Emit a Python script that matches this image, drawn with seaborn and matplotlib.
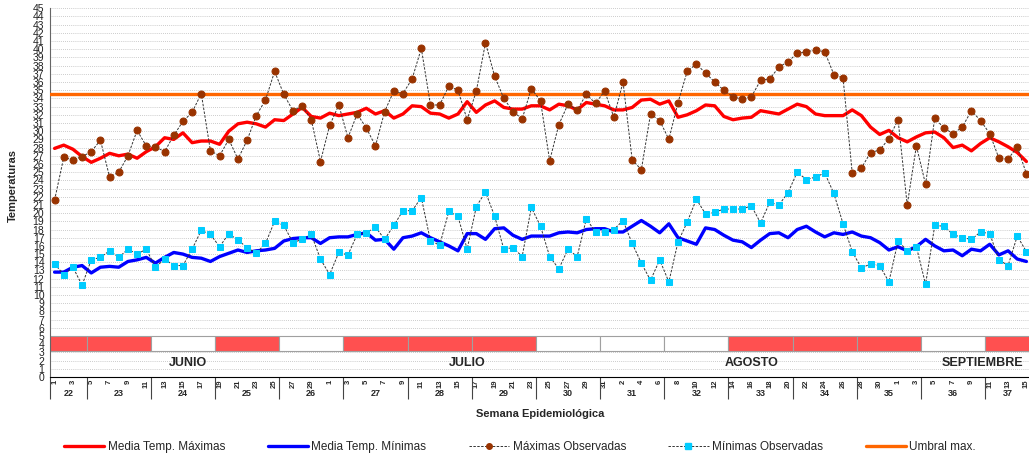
import numpy as np
import pandas as pd
import matplotlib as mpl
import matplotlib.pyplot as plt
from matplotlib.lines import Line2D
from matplotlib.patches import Rectangle
import seaborn as sns

sns.set_style('white')
plt.rcParams['font.family'] = ['Liberation Sans', 'DejaVu Sans']

# datos diarios 1 jun - 15 sep
fechas = pd.date_range('2022-06-01', periods=107)
semanas = list(range(22, 38))
dias_semana = [4] + [7] * 14 + [5]
banda_roja = [1, 1, 0, 1, 0, 1, 1, 1, 0, 0, 0, 1, 1, 1, 0, 1]
meses = ['JUNIO', 'JULIO', 'AGOSTO', 'SEPTIEMBRE']
umbral = 34.5

max_obs = [21.6, 26.8, 26.5, 26.9, 27.5, 28.9, 24.4, 25.0, 27.0, 30.1,
           28.2, 28.1, 27.5, 29.5, 31.2, 32.3, 34.6, 27.6, 27.0, 29.0,
           26.6, 28.9, 31.9, 33.8, 37.3, 34.5, 32.5, 33.1, 31.4, 26.3,
           30.7, 33.2, 29.2, 32.1, 30.4, 28.2, 32.4, 34.9, 34.6, 36.4,
           40.1, 33.2, 33.2, 35.5, 35.0, 31.4, 34.9, 40.8, 36.7, 34.0,
           32.4, 31.5, 35.2, 33.7, 26.4, 30.8, 33.3, 32.6, 34.5, 33.4,
           34.9, 31.7, 36.0, 26.5, 25.3, 32.1, 31.3, 29.0, 33.5, 37.3,
           38.2, 37.1, 36.0, 35.0, 34.2, 33.9, 34.2, 36.2, 36.4, 37.8,
           38.5, 39.5, 39.7, 39.9, 39.7, 36.9, 36.5, 24.9, 25.5, 27.4,
           27.7, 29.1, 31.4, 21.0, 28.2, 23.5, 31.6, 30.4, 29.7, 30.5,
           32.5, 31.3, 29.7, 26.7, 26.6, 28.1, 24.8]

min_obs = [13.8, 12.5, 13.4, 11.2, 14.3, 14.6, 15.4, 14.6, 15.6, 15.0,
           15.6, 13.4, 14.4, 13.6, 13.6, 15.6, 17.9, 17.4, 15.9, 17.5,
           16.7, 15.8, 15.1, 16.3, 19.0, 18.5, 16.4, 16.8, 17.4, 14.4,
           12.5, 15.2, 14.9, 17.4, 17.6, 18.3, 16.8, 18.5, 20.3, 20.3,
           21.9, 16.6, 16.1, 20.2, 19.6, 15.6, 20.8, 22.6, 19.6, 15.6,
           15.8, 14.7, 20.7, 18.4, 14.7, 13.2, 15.6, 14.7, 19.3, 17.7,
           17.7, 18.0, 19.1, 16.3, 13.9, 11.8, 14.3, 11.6, 16.5, 18.9,
           21.7, 19.9, 20.1, 20.5, 20.5, 20.5, 20.9, 18.8, 21.3, 21.0,
           22.5, 25.0, 24.1, 24.4, 24.9, 22.4, 18.7, 15.3, 13.3, 13.8,
           13.6, 11.6, 16.6, 15.4, 15.9, 11.3, 18.5, 18.4, 17.4, 17.0,
           16.8, 17.7, 17.5, 14.3, 13.6, 17.2, 15.3]

media_max = [27.9, 28.3, 27.8, 26.9, 26.2, 26.7, 27.3, 27.0, 27.2, 26.7,
             27.5, 28.1, 29.2, 29.0, 29.8, 28.6, 28.8, 28.8, 28.4, 30.0,
             30.9, 31.1, 30.9, 30.5, 31.4, 31.3, 32.1, 32.9, 31.8, 31.6,
             32.2, 31.9, 32.1, 32.3, 32.8, 32.1, 32.5, 31.6, 32.1, 33.1,
             33.0, 32.2, 32.1, 31.6, 32.1, 33.6, 32.3, 33.2, 33.7, 32.9,
             32.7, 32.7, 33.1, 33.1, 32.6, 33.3, 33.1, 32.6, 33.5, 33.3,
             33.1, 32.6, 32.6, 32.9, 33.8, 33.9, 33.3, 33.7, 31.7, 32.0,
             32.5, 33.2, 33.1, 31.8, 31.4, 31.6, 31.7, 32.5, 32.3, 32.1,
             32.7, 33.3, 33.0, 32.1, 31.9, 31.9, 31.9, 32.6, 31.9, 30.5,
             29.6, 30.1, 29.2, 28.7, 29.3, 29.8, 29.9, 29.2, 28.0, 28.3,
             27.6, 28.5, 29.2, 28.7, 28.1, 27.4, 26.3]

media_min = [12.8, 12.8, 13.4, 13.6, 12.7, 13.4, 13.5, 13.4, 14.1, 14.3,
             14.6, 13.9, 14.6, 15.2, 15.0, 14.6, 14.5, 14.1, 14.7, 15.1,
             15.5, 15.2, 15.4, 15.5, 15.7, 16.6, 16.9, 17.0, 17.0, 16.3,
             17.0, 17.1, 17.1, 17.4, 17.6, 16.7, 16.8, 15.6, 17.0, 17.2,
             17.6, 17.0, 16.5, 16.0, 15.4, 17.5, 17.5, 16.8, 18.1, 18.2,
             17.3, 16.8, 17.2, 17.2, 17.2, 17.6, 17.7, 17.6, 18.0, 18.1,
             18.1, 17.7, 17.7, 18.4, 19.1, 18.4, 17.6, 18.7, 17.0, 16.6,
             16.2, 18.2, 18.0, 17.3, 16.7, 16.5, 15.8, 16.7, 17.5, 17.6,
             17.0, 18.0, 18.4, 17.7, 17.1, 17.6, 17.4, 17.7, 17.2, 17.0,
             16.4, 15.5, 15.9, 15.4, 15.9, 16.8, 16.0, 15.4, 15.5, 14.8,
             15.6, 15.4, 16.2, 14.9, 15.4, 14.4, 14.1]

df = pd.DataFrame({'dia': np.arange(len(fechas)), 'max_obs': max_obs, 'min_obs': min_obs,
                   'media_max': media_max, 'media_min': media_min})

fig = plt.figure(figsize=(10.29, 4.59), dpi=100)
ax = fig.add_axes([50 / 1029, 1 - 377 / 459, 981 / 1029, 368.7 / 459])

c_rojo, c_azul, c_naranja = '#FF0000', '#0000FF', '#FF6600'
c_cafe, c_cian = '#993300', '#00CCFF'

ax.axhline(umbral, color=c_naranja, lw=2.4, zorder=3)
sns.lineplot(data=df, x='dia', y='media_max', ax=ax, color=c_rojo, lw=2.4, zorder=4)
sns.lineplot(data=df, x='dia', y='media_min', ax=ax, color=c_azul, lw=2.4, zorder=4)
sns.lineplot(data=df, x='dia', y='max_obs', ax=ax, color='#333333', lw=0.7, linestyle=(0, (2.5, 1.5)),
             marker='o', ms=5, markerfacecolor=c_cafe, markeredgecolor=c_cafe, zorder=5)
sns.lineplot(data=df, x='dia', y='min_obs', ax=ax, color='#333333', lw=0.7, linestyle=(0, (2.5, 1.5)),
             marker='s', ms=5, markerfacecolor=c_cian, markeredgecolor=c_cian, zorder=5)

# banda de semanas
inicio = np.concatenate([[0], np.cumsum(dias_semana)[:-1]]) - 0.5
for x0, n, r in zip(inicio, dias_semana, banda_roja):
    ax.add_patch(Rectangle((x0, 3.2), n, 1.8, facecolor='#FF5050' if r else 'white',
                           edgecolor='#A0A0A0', lw=0.8, zorder=2))

# meses
pos_mes = [14.5, 45, 76, 101.2]
for m, p in zip(meses, pos_mes):
    ax.text(p, 1.75, m, ha='center', va='center', fontsize=9, fontweight='bold')

ax.set_xlim(-0.5, len(fechas) - 0.5)
ax.set_ylim(0, 45)
ax.set_yticks(range(0, 46))
ax.tick_params(axis='y', labelsize=7.5, length=3, width=0.6, color='#555555', pad=1,
               labelcolor='#222222')
ax.grid(axis='y', color='#BBBBBB', linestyle=(0, (1, 1.5)), lw=0.6)
ax.set_axisbelow(True)

dias = np.arange(0, len(fechas), 2)
ax.set_xticks(dias)
ax.set_xticklabels([str(fechas[i].day) for i in dias], rotation=90, fontsize=5.5, fontweight='bold')
ax.tick_params(axis='x', which='major', length=0, pad=2)
ax.set_xticks(dias - 0.5, minor=True)
ax.tick_params(axis='x', which='minor', length=8, width=0.7, color='#444444')

trans = ax.get_xaxis_transform()
limites = np.concatenate([inicio, [len(fechas) - 0.5]])
ax.vlines(limites, -0.06, 0, transform=trans, color='#444444', lw=0.8, clip_on=False)
for x0, n, s in zip(inicio, dias_semana, semanas):
    ax.text(x0 + n / 2, -0.044, str(s), transform=trans, ha='center', va='center',
            fontsize=6.5, fontweight='bold')

ax.set_xlabel('')
ax.set_ylabel('')
fig.text(13 / 1029, 1 - 185 / 459, 'Temperaturas', rotation=90, ha='center', va='center',
         fontsize=8, fontweight='bold')
fig.text(540 / 1029, 1 - 414 / 459, 'Semana Epidemiológica', ha='center', va='center',
         fontsize=8, fontweight='bold')

for s in ['top', 'right']:
    ax.spines[s].set_visible(False)
ax.spines['left'].set_color('#666666')
ax.spines['bottom'].set_color('black')

handles = [
    Line2D([], [], color=c_rojo, lw=2.4),
    Line2D([], [], color=c_azul, lw=2.4),
    Line2D([], [], color='#333333', lw=0.7, linestyle=(0, (2.5, 1.5)), marker='o', ms=4,
           markerfacecolor=c_cafe, markeredgecolor=c_cafe),
    Line2D([], [], color='#333333', lw=0.7, linestyle=(0, (2.5, 1.5)), marker='s', ms=4,
           markerfacecolor=c_cian, markeredgecolor=c_cian),
    Line2D([], [], color=c_naranja, lw=2.4),
]
etiquetas = ['Media Temp. Máximas', 'Media Temp. Mínimas', 'Máximas Observadas',
             'Mínimas Observadas', 'Umbral max.']
fig.legend(handles, etiquetas, loc='center', bbox_to_anchor=(520 / 1029, 1 - 447 / 459), ncol=5,
           frameon=False, fontsize=8.5, handlelength=3.4, handletextpad=0.3, columnspacing=3.6,
           numpoints=1)

fig.savefig('out.png', dpi=100)
